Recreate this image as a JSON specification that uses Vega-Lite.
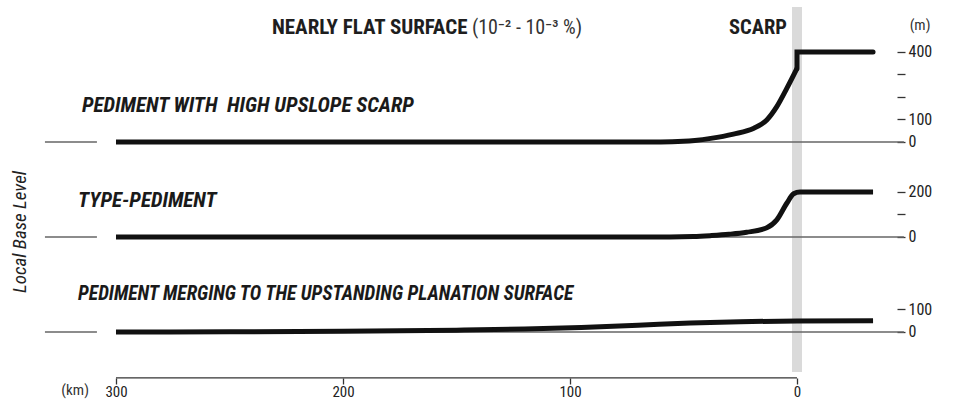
{
  "$schema": "https://vega.github.io/schema/vega-lite/v6.json",
  "width": 960,
  "height": 403,
  "autosize": "none",
  "padding": 0,
  "background": "white",
  "config": {
    "view": {"stroke": null},
    "font": "Roboto Condensed, Roboto, sans-serif",
    "axis": {"labelFont": "Roboto Condensed, Roboto, sans-serif"}
  },
  "datasets": {
    "band": [{"km": 2.2, "km2": -2.2, "m": 600, "m2": -1022}],
    "base": [
      {"panel": 1, "km": 331.3, "km2": 308.4, "m": 0},
      {"panel": 1, "km": 300, "km2": -47.1, "m": 0},
      {"panel": 2, "km": 331.3, "km2": 308.4, "m": 0},
      {"panel": 2, "km": 300, "km2": -47.1, "m": 0},
      {"panel": 3, "km": 331.3, "km2": 308.4, "m": 0},
      {"panel": 3, "km": 300, "km2": -47.1, "m": 0}
    ],
    "kmaxis": [{"km": 300, "km2": 0, "m": -204}],
    "profile": [
      {"panel": 1, "seg": 1, "i": 1, "km": 300, "m": 0},
      {"panel": 1, "seg": 1, "i": 2, "km": 60, "m": 0},
      {"panel": 1, "seg": 1, "i": 3, "km": 50, "m": 3},
      {"panel": 1, "seg": 1, "i": 4, "km": 45, "m": 7},
      {"panel": 1, "seg": 1, "i": 5, "km": 38, "m": 16},
      {"panel": 1, "seg": 1, "i": 6, "km": 28, "m": 35},
      {"panel": 1, "seg": 1, "i": 7, "km": 19, "m": 61},
      {"panel": 1, "seg": 1, "i": 8, "km": 13.3, "m": 98},
      {"panel": 1, "seg": 1, "i": 9, "km": 8.9, "m": 157},
      {"panel": 1, "seg": 1, "i": 10, "km": 4.5, "m": 238},
      {"panel": 1, "seg": 1, "i": 11, "km": 0, "m": 327},
      {"panel": 1, "seg": 2, "i": 12, "km": 0, "m": 327},
      {"panel": 1, "seg": 2, "i": 13, "km": 0, "m": 400},
      {"panel": 1, "seg": 2, "i": 14, "km": -33.5, "m": 400},
      {"panel": 2, "seg": 1, "i": 1, "km": 300, "m": 0},
      {"panel": 2, "seg": 1, "i": 2, "km": 56, "m": 0},
      {"panel": 2, "seg": 1, "i": 3, "km": 45.7, "m": 2},
      {"panel": 2, "seg": 1, "i": 4, "km": 38.3, "m": 6},
      {"panel": 2, "seg": 1, "i": 5, "km": 30, "m": 12},
      {"panel": 2, "seg": 1, "i": 6, "km": 22.2, "m": 21},
      {"panel": 2, "seg": 1, "i": 7, "km": 13.3, "m": 41},
      {"panel": 2, "seg": 1, "i": 8, "km": 8.9, "m": 76},
      {"panel": 2, "seg": 1, "i": 9, "km": 4.5, "m": 150},
      {"panel": 2, "seg": 1, "i": 10, "km": 1.5, "m": 192},
      {"panel": 2, "seg": 1, "i": 11, "km": -1.3, "m": 200},
      {"panel": 2, "seg": 1, "i": 12, "km": -33.5, "m": 200},
      {"panel": 3, "seg": 1, "i": 1, "km": 300, "m": 0},
      {"panel": 3, "seg": 1, "i": 2, "km": 250, "m": 1},
      {"panel": 3, "seg": 1, "i": 3, "km": 200, "m": 3},
      {"panel": 3, "seg": 1, "i": 4, "km": 150, "m": 8},
      {"panel": 3, "seg": 1, "i": 5, "km": 120, "m": 13},
      {"panel": 3, "seg": 1, "i": 6, "km": 95, "m": 20},
      {"panel": 3, "seg": 1, "i": 7, "km": 70, "m": 30},
      {"panel": 3, "seg": 1, "i": 8, "km": 47, "m": 40},
      {"panel": 3, "seg": 1, "i": 9, "km": 25, "m": 46},
      {"panel": 3, "seg": 1, "i": 10, "km": 0, "m": 49},
      {"panel": 3, "seg": 1, "i": 11, "km": -33.5, "m": 50}
    ],
    "notes": [
      {"panel": 1, "kind": "boldL", "text": "NEARLY FLAT SURFACE", "km": 231.3, "m": 507},
      {"panel": 1, "kind": "reg", "text": "(10⁻² - 10⁻³ %)", "km": 143.2, "m": 507},
      {"panel": 1, "kind": "boldR", "text": "SCARP", "km": 4.4, "m": 507},
      {"panel": 1, "kind": "hdr", "text": "PEDIMENT WITH\u00a0 HIGH UPSLOPE SCARP", "km": 315, "m": 160},
      {"panel": 1, "kind": "unit", "text": "(m)", "km": -54.2, "m": 520},
      {"panel": 2, "kind": "hdr", "text": "TYPE-PEDIMENT", "km": 316.7, "m": 162},
      {"panel": 2, "kind": "side", "text": "Local Base Level", "km": 342.3, "m": 22},
      {"panel": 3, "kind": "hdr", "text": "PEDIMENT MERGING TO THE UPSTANDING PLANATION SURFACE", "km": 316.7, "m": 166.7},
      {"panel": 3, "kind": "unit", "text": "(km)", "km": 318, "m": -257.8}
    ]
  },
  "layer": [
    {
      "encoding": {
        "x": {"field": "km", "type": "quantitative", "scale": {"domain": [-71.806, 351.101], "reverse": true, "nice": false, "zero": false},
          "axis": {"orient": "bottom", "offset": -25, "domain": false, "grid": false, "values": [300, 200, 100, 0], "format": "d",
            "tickSize": 6, "tickColor": "#333", "tickWidth": 1.3, "labelPadding": 0, "labelFontSize": 15, "labelColor": "#222",
            "labelFlush": false, "labelOverlap": false, "title": null}},
        "y": {"field": "m", "type": "quantitative", "scale": {"domain": [-1160, 631.11], "nice": false, "zero": false},
          "axis": {"orient": "right", "offset": -63, "domain": false, "grid": false, "values": [0, 100, 200, 300, 400],
            "labelExpr": "datum.value == 200 || datum.value == 300 ? '' : datum.label",
            "tickSize": 8, "tickColor": "#333", "tickWidth": 1.3, "labelPadding": 3, "labelFontSize": 16, "labelColor": "#222", "title": null}}
      },
      "layer": [
        {"data": {"name": "band"}, "mark": {"type": "rect", "color": "#dadada"},
          "encoding": {"x2": {"field": "km2"}, "y2": {"field": "m2"}}},
        {"data": {"name": "base"}, "transform": [{"filter": "datum.panel == 1"}],
          "mark": {"type": "rule", "color": "#666", "strokeWidth": 1.4},
          "encoding": {"x2": {"field": "km2"}}},
        {"data": {"name": "profile"}, "transform": [{"filter": "datum.panel == 1 && datum.seg == 1"}],
          "mark": {"type": "line", "color": "#111", "strokeWidth": 5, "strokeCap": "butt", "strokeJoin": "round", "interpolate": "monotone"},
          "encoding": {"order": {"field": "i", "type": "quantitative"}}},
        {"data": {"name": "profile"}, "transform": [{"filter": "datum.panel == 1 && datum.seg == 2"}],
          "mark": {"type": "line", "color": "#111", "strokeWidth": 5, "strokeCap": "round", "strokeJoin": "miter", "interpolate": "linear"},
          "encoding": {"order": {"field": "i", "type": "quantitative"}}},
        {"data": {"name": "notes"}, "transform": [{"filter": "datum.panel == 1 && datum.kind == 'boldL'"}],
          "mark": {"type": "text", "align": "left", "baseline": "middle", "fontSize": 21, "fontWeight": "bold", "color": "#1e1e1e"},
          "encoding": {"text": {"field": "text"}}},
        {"data": {"name": "notes"}, "transform": [{"filter": "datum.panel == 1 && datum.kind == 'reg'"}],
          "mark": {"type": "text", "align": "left", "baseline": "middle", "fontSize": 20, "color": "#333"},
          "encoding": {"text": {"field": "text"}}},
        {"data": {"name": "notes"}, "transform": [{"filter": "datum.panel == 1 && datum.kind == 'boldR'"}],
          "mark": {"type": "text", "align": "right", "baseline": "middle", "fontSize": 20.5, "fontWeight": "bold", "color": "#1e1e1e"},
          "encoding": {"text": {"field": "text"}}},
        {"data": {"name": "notes"}, "transform": [{"filter": "datum.panel == 1 && datum.kind == 'hdr'"}],
          "mark": {"type": "text", "align": "left", "baseline": "middle", "fontSize": 21, "fontWeight": "bold", "fontStyle": "italic", "color": "#1a1a1a"},
          "encoding": {"text": {"field": "text"}}},
        {"data": {"name": "notes"}, "transform": [{"filter": "datum.panel == 1 && datum.kind == 'unit'"}],
          "mark": {"type": "text", "align": "center", "baseline": "middle", "fontSize": 15, "color": "#333"},
          "encoding": {"text": {"field": "text"}}}
      ]
    },
    {
      "encoding": {
        "x": {"field": "km", "type": "quantitative", "scale": {"domain": [-71.806, 351.101], "reverse": true, "nice": false, "zero": false},
          "axis": {"orient": "bottom", "offset": -25, "domain": false, "grid": false, "values": [300, 200, 100, 0], "format": "d",
            "tickSize": 6, "tickColor": "#333", "tickWidth": 1.3, "labelPadding": 0, "labelFontSize": 15, "labelColor": "#222",
            "labelFlush": false, "labelOverlap": false, "title": null}},
        "y": {"field": "m", "type": "quantitative", "scale": {"domain": [-737.78, 1053.33], "nice": false, "zero": false},
          "axis": {"orient": "right", "offset": -63, "domain": false, "grid": false, "values": [0, 100, 200],
            "labelExpr": "datum.value == 100 ? '' : datum.label",
            "tickSize": 8, "tickColor": "#333", "tickWidth": 1.3, "labelPadding": 3, "labelFontSize": 16, "labelColor": "#222", "title": null}}
      },
      "layer": [
        {"data": {"name": "base"}, "transform": [{"filter": "datum.panel == 2"}],
          "mark": {"type": "rule", "color": "#666", "strokeWidth": 1.4},
          "encoding": {"x2": {"field": "km2"}}},
        {"data": {"name": "profile"}, "transform": [{"filter": "datum.panel == 2"}],
          "mark": {"type": "line", "color": "#111", "strokeWidth": 5, "strokeCap": "butt", "strokeJoin": "round", "interpolate": "monotone"},
          "encoding": {"order": {"field": "i", "type": "quantitative"}}},
        {"data": {"name": "notes"}, "transform": [{"filter": "datum.panel == 2 && datum.kind == 'hdr'"}],
          "mark": {"type": "text", "align": "left", "baseline": "middle", "fontSize": 21, "fontWeight": "bold", "fontStyle": "italic", "color": "#1a1a1a"},
          "encoding": {"text": {"field": "text"}}},
        {"data": {"name": "notes"}, "transform": [{"filter": "datum.panel == 2 && datum.kind == 'side'"}],
          "mark": {"type": "text", "align": "center", "baseline": "middle", "angle": 270, "fontSize": 19, "fontStyle": "italic", "color": "#222"},
          "encoding": {"text": {"field": "text"}}}
      ]
    },
    {
      "encoding": {
        "x": {"field": "km", "type": "quantitative", "scale": {"domain": [-71.806, 351.101], "reverse": true, "nice": false, "zero": false},
          "axis": {"orient": "bottom", "offset": -25, "domain": false, "grid": false, "values": [300, 200, 100, 0], "format": "d",
            "tickSize": 6, "tickColor": "#333", "tickWidth": 1.3, "labelPadding": 0, "labelFontSize": 15, "labelColor": "#222",
            "labelFlush": false, "labelOverlap": false, "title": null}},
        "y": {"field": "m", "type": "quantitative", "scale": {"domain": [-315.56, 1475.56], "nice": false, "zero": false},
          "axis": {"orient": "right", "offset": -63, "domain": false, "grid": false, "values": [0, 100],
            "tickSize": 8, "tickColor": "#333", "tickWidth": 1.3, "labelPadding": 3, "labelFontSize": 16, "labelColor": "#222", "title": null}}
      },
      "layer": [
        {"data": {"name": "base"}, "transform": [{"filter": "datum.panel == 3"}],
          "mark": {"type": "rule", "color": "#666", "strokeWidth": 1.4},
          "encoding": {"x2": {"field": "km2"}}},
        {"data": {"name": "kmaxis"},
          "mark": {"type": "rule", "color": "#333", "strokeWidth": 1.3},
          "encoding": {"x2": {"field": "km2"}}},
        {"data": {"name": "profile"}, "transform": [{"filter": "datum.panel == 3"}],
          "mark": {"type": "line", "color": "#111", "strokeWidth": 5, "strokeCap": "butt", "strokeJoin": "round", "interpolate": "monotone"},
          "encoding": {"order": {"field": "i", "type": "quantitative"}}},
        {"data": {"name": "notes"}, "transform": [{"filter": "datum.panel == 3 && datum.kind == 'hdr'"}],
          "mark": {"type": "text", "align": "left", "baseline": "middle", "fontSize": 19.5, "fontWeight": "bold", "fontStyle": "italic", "color": "#1a1a1a"},
          "encoding": {"text": {"field": "text"}}},
        {"data": {"name": "notes"}, "transform": [{"filter": "datum.panel == 3 && datum.kind == 'unit'"}],
          "mark": {"type": "text", "align": "center", "baseline": "middle", "fontSize": 15, "color": "#333"},
          "encoding": {"text": {"field": "text"}}}
      ]
    }
  ],
  "resolve": {"scale": {"y": "independent"}, "axis": {"y": "independent"}}
}
